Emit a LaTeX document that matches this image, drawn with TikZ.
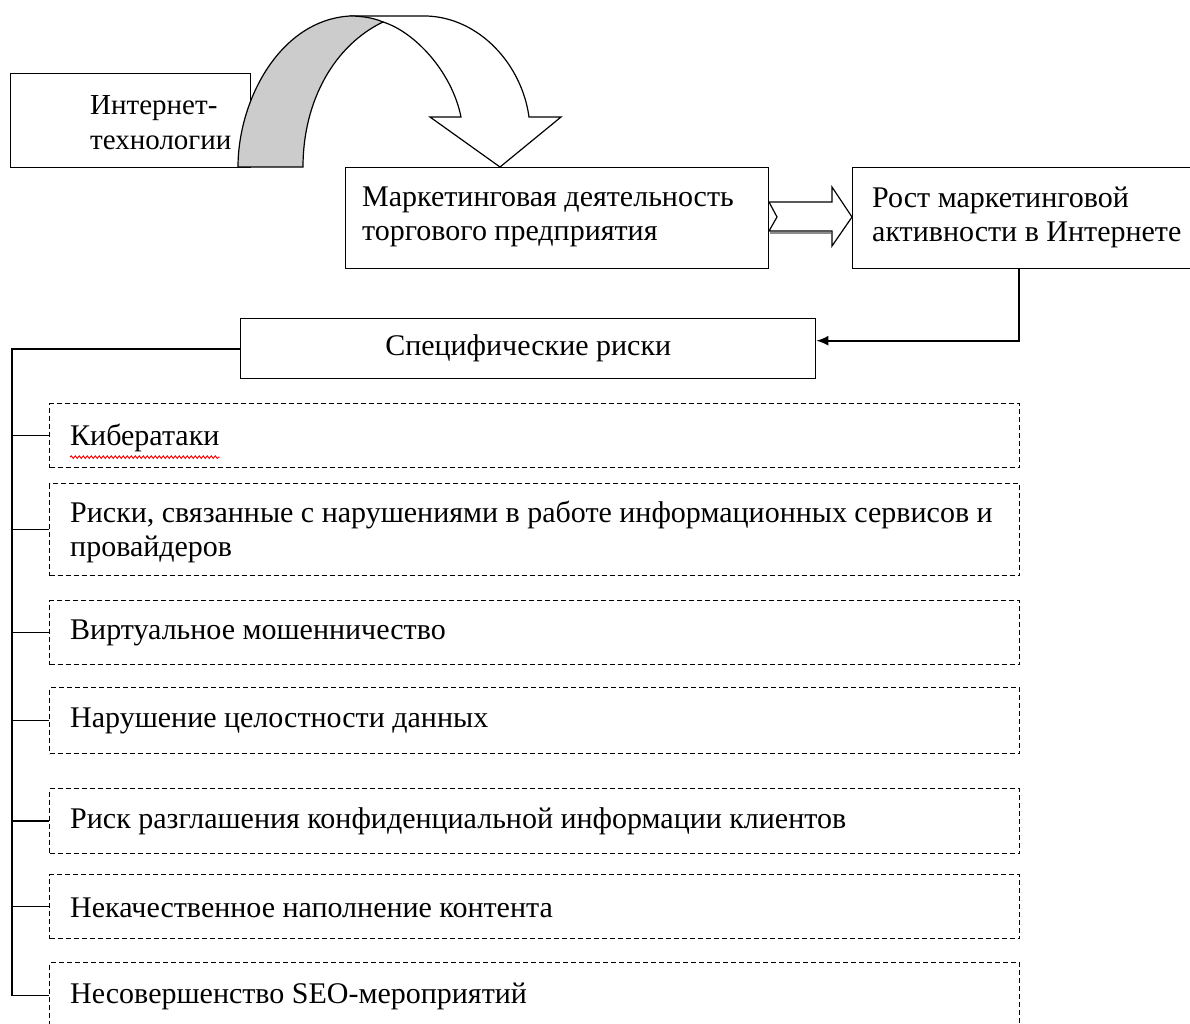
\documentclass[tikz,border=0pt]{standalone}
\usepackage{fontspec}
\setmainfont{Liberation Serif}
\usetikzlibrary{arrows.meta,decorations.pathmorphing,calc}
\begin{document}
\begin{tikzpicture}[x=1pt,y=-1pt,
  box/.style={draw,line width=1.4pt,fill=white,inner sep=0pt,anchor=north west},
  dbox/.style={draw,dash pattern=on 5pt off 3pt,line width=1.2pt,inner sep=0pt,anchor=north west,minimum width=970pt},
  lbl/.style={font=\fontsize{30}{34}\selectfont,align=left,anchor=west,inner sep=0pt},
  conn/.style={line width=1.6pt},
  blk/.style={draw,line width=1.2pt,fill=white,line join=miter}]
\useasboundingbox (0,0) rectangle (1190,1023);
\clip (0,0) rectangle (1190,1023);
\fill[white] (0,0) rectangle (1190,1023);

% Internet box
\node[box,minimum width=240pt,minimum height=94pt] (inet) at (10,73) {};
\node[lbl,anchor=north west,font=\fontsize{29}{35}\selectfont] (inettxt) at (90,95) {Интернет-\\технологии};

% curved arrow: front (white) part
\draw[blk] (350,16) -- (427,16) .. controls (480,18) and (522,65) .. (529,117)
  -- (561,117) -- (500,167) -- (430,117) -- (461,117)
  .. controls (452,72) and (415,32) .. (383,22) -- cycle;
% back (grey) part
\draw[blk,fill=black!20] (238,167) .. controls (238,100) and (280,20) .. (350,16)
  .. controls (362,16) and (374,18) .. (383,22)
  .. controls (335,45) and (303,100) .. (303,167) -- cycle;

% Marketing box
\node[box,minimum width=423pt,minimum height=101pt] (mk) at (345,167) {};
\node[lbl] (mktxt) at (362,217) {Маркетинговая деятельность\\торгового предприятия};

% Growth box
\node[box,minimum width=400pt,minimum height=101pt] (rost) at (852,167) {};
\node[lbl] (rosttxt) at (872,217) {Рост маркетинговой\\активности в Интернете};

% notched block arrow between mk and rost
\draw[blk] (769,202) -- (832,202) -- (832,187) -- (852,217) -- (832,246)
  -- (832,231) -- (769,231) -- (777,217) -- cycle;
\draw[black!45,line width=1.2pt] (770,233) -- (831,233);

% Specific risks
\node[box,minimum width=575pt,minimum height=60pt,font=\fontsize{30}{34}\selectfont] (risk) at (240,318) {Специфические риски};

\draw[conn,-{Latex[length=12pt,width=10pt]}] ([xshift=167pt]rost.south west) |- ([yshift=8pt]risk.east);

% dashed boxes
\node[dbox,minimum height=64pt] (d1) at (49,403) {};
\node[dbox,minimum height=92pt] (d2) at (49,483) {};
\node[dbox,minimum height=64pt] (d3) at (49,600) {};
\node[dbox,minimum height=66pt] (d4) at (49,687) {};
\node[dbox,minimum height=65pt] (d5) at (49,788) {};
\node[dbox,minimum height=64pt] (d6) at (49,874) {};
\node[dbox,minimum height=66pt] (d7) at (49,962) {};

\node[lbl] (t1) at (70,438) {Кибератаки};
\node[lbl] (t2) at (70,532) {Риски, связанные с нарушениями в работе информационных сервисов и\\провайдеров};
\node[lbl] (t3) at (70,633) {Виртуальное мошенничество};
\node[lbl] (t4) at (70,721) {Нарушение целостности данных};
\node[lbl] (t5) at (70,821) {Риск разглашения конфиденциальной информации клиентов};
\node[lbl] (t6) at (70,908) {Некачественное наполнение контента};
\node[lbl] (t7) at (70,996) {Несовершенство SEO-мероприятий};

\draw[red,line width=0.9pt,decorate,decoration={snake,amplitude=1.3pt,segment length=4pt}] ([yshift=-5pt]t1.south west) -- ([yshift=-5pt]t1.south east);

% bus
\coordinate (bus) at (12,0);
\draw[conn] (risk.west) -- (bus |- risk.west) -- (bus |- d7.west) -- (d7.west);
\foreach \k in {1,...,6} {\draw[conn] (bus |- d\k.west) -- (d\k.west);}
\end{tikzpicture}
\end{document}
